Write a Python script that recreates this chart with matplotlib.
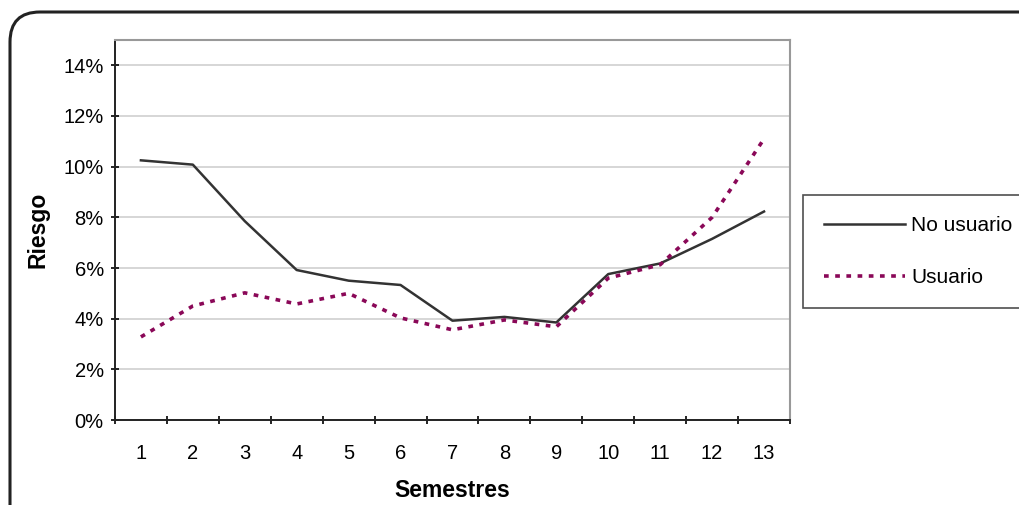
import numpy as np
import matplotlib
matplotlib.use("Agg")
from matplotlib import pyplot as plt
from matplotlib.patches import FancyBboxPatch
from matplotlib.transforms import IdentityTransform

# datos
semestres = [1, 2, 3, 4, 5, 6, 7, 8, 9, 10, 11, 12, 13]
no_usuario = [10.25, 10.08, 7.85, 5.92, 5.50, 5.33, 3.92, 4.07, 3.85, 5.76, 6.18, 7.15, 8.23]
usuario = [3.28, 4.50, 5.02, 4.58, 5.00, 4.03, 3.56, 3.95, 3.68, 5.60, 6.13, 8.00, 11.10]
yticks = [0, 2, 4, 6, 8, 10, 12, 14]

plt.rcParams['font.family'] = ['Liberation Sans', 'DejaVu Sans']

fig = plt.figure(figsize=(10.2, 5.05), dpi=100)

# marco redondeado (en pixeles)
borde = FancyBboxPatch((10, -60), 1100, 553, boxstyle="round,pad=0,rounding_size=30",
                       transform=IdentityTransform(), fill=False, edgecolor='#222222', linewidth=2.2)
fig.patches.append(borde)

ax = fig.add_axes([0.1127, 0.1683, 0.6618, 0.7525])

ax.plot(semestres, no_usuario, color='#333333', linewidth=1.8, label='No usuario')
ax.plot(semestres, usuario, color='#8a0858', linewidth=2.6, linestyle=(0, (1.3, 1.8)), label='Usuario')

ax.set_xlim(0.5, 13.5)
ax.set_ylim(0, 15)
ax.set_yticks(yticks)
ax.set_yticklabels([f'{v}%' for v in yticks])
ax.set_xticks(semestres)
ax.set_xticks(np.arange(0.5, 14, 1), minor=True)
ax.tick_params(axis='x', which='major', length=0, labelsize=14.5, pad=17)
ax.tick_params(axis='x', which='minor', length=6, direction='inout', width=1.2)
ax.tick_params(axis='y', length=6, direction='inout', width=1.2, labelsize=14.5, pad=5)
ax.yaxis.grid(True, color='#cccccc', linewidth=1.1)
ax.set_axisbelow(True)

for s in ['top', 'right']:
    ax.spines[s].set_color('#999999')
    ax.spines[s].set_linewidth(1.5)
for s in ['left', 'bottom']:
    ax.spines[s].set_color('#222222')
    ax.spines[s].set_linewidth(1.4)

ax.set_xlabel('Semestres', fontsize=16.5, fontweight='bold', labelpad=12)
ax.set_ylabel('Riesgo', fontsize=16.5, fontweight='bold', labelpad=10)

leg = fig.legend(loc='upper left', bbox_to_anchor=(803/1020, 1 - 195/505), fontsize=15,
                 frameon=True, fancybox=False, edgecolor='#222222', handlelength=3.9,
                 labelspacing=1.6, borderpad=1.0, handletextpad=0.3, borderaxespad=0)
leg.get_frame().set_linewidth(1.2)

fig.savefig('out.png', dpi=100)
